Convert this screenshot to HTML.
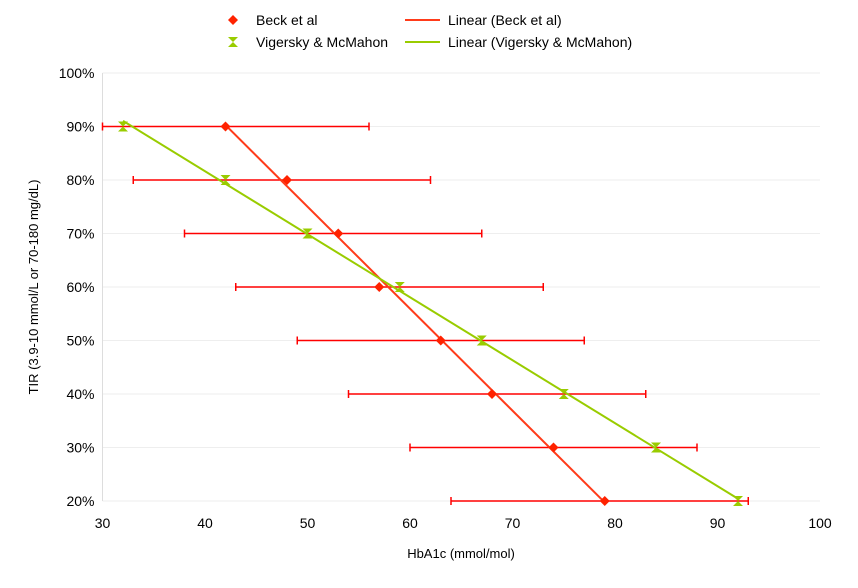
<!DOCTYPE html>
<html><head><meta charset="utf-8"><style>
body{margin:0;background:#fff;}
svg text{font-family:"Liberation Sans",sans-serif;fill:#000;}
</style></head><body>
<svg id="c" width="858" height="583"></svg>
<script>
const xTicks=[30,40,50,60,70,80,90,100];
const yTicks=[20,30,40,50,60,70,80,90,100];
const beckX=[42,48,53,57,63,68,74,79];
const beckY=[90,80,70,60,50,40,30,20];
const beckErrLo=[30,33,38,43,49,54,60,64];
const beckErrHi=[56,62,67,73,77,83,88,93];
const vigX=[32,42,50,59,67,75,84,92];
const vigY=[90,80,70,60,50,40,30,20];

const svg=document.getElementById('c');
const NS='http://www.w3.org/2000/svg';
const L=102.5,R=820,T=73,B=501;
const xs=v=>L+(v-30)/70*(R-L);
const ys=v=>B-(v-20)/80*(B-T);
function mk(tag,attrs,parent){const e=document.createElementNS(NS,tag);for(const k in attrs)e.setAttribute(k,attrs[k]);(parent||svg).appendChild(e);return e;}

yTicks.forEach(t=>{
  const g=mk('line',{x1:L,x2:R,y1:ys(t),y2:ys(t),stroke:'#eeeeee','stroke-width':1});
  
  
  const tx=mk('text',{x:L-8,y:ys(t)+5,'text-anchor':'end','font-size':14});
  tx.textContent=t+'%';
  
  
});
xTicks.forEach(t=>{
  const tx=mk('text',{x:xs(t),y:528,'text-anchor':'middle','font-size':14});
  tx.textContent=t;
  
  
});
const ax=mk('line',{x1:L,x2:L,y1:T,y2:B,stroke:'#dddddd','stroke-width':1});



function fit(xsArr,ysArr){ // regress x on y is fine for drawing line across y range; use y on x
  const n=xsArr.length;let mx=0,my=0;for(let i=0;i<n;i++){mx+=xsArr[i];my+=ysArr[i];}mx/=n;my/=n;
  let sxy=0,sxx=0;for(let i=0;i<n;i++){sxy+=(xsArr[i]-mx)*(ysArr[i]-my);sxx+=(xsArr[i]-mx)**2;}
  const b=sxy/sxx;return{b,a:my-b*mx,x0:Math.min(...xsArr),x1:Math.max(...xsArr)};
}
// error bars
beckX.forEach((x,i)=>{
  const y=ys(beckY[i]);
  const e=mk('g',{stroke:'#ff0000','stroke-width':1.5});
  
  
  mk('line',{x1:xs(beckErrLo[i]),x2:xs(beckErrHi[i]),y1:y,y2:y},e);
  mk('line',{x1:xs(beckErrLo[i]),x2:xs(beckErrLo[i]),y1:y-4,y2:y+4},e);
  mk('line',{x1:xs(beckErrHi[i]),x2:xs(beckErrHi[i]),y1:y-4,y2:y+4},e);
});
const fb=fit(beckX,beckY),fv=fit(vigX,vigY);
const tb=mk('line',{x1:xs(fb.x0),y1:ys(fb.a+fb.b*fb.x0),x2:xs(fb.x1),y2:ys(fb.a+fb.b*fb.x1),stroke:'#ff3b1a','stroke-width':2});


const tv=mk('line',{x1:xs(fv.x0),y1:ys(fv.a+fv.b*fv.x0),x2:xs(fv.x1),y2:ys(fv.a+fv.b*fv.x1),stroke:'#99cc00','stroke-width':2});


function hourglass(cx,cy,s){return `M${cx-s},${cy-s}L${cx+s},${cy-s}L${cx},${cy}L${cx+s},${cy+s}L${cx-s},${cy+s}L${cx},${cy}Z`;}
vigX.forEach((x,i)=>{
  const p=mk('path',{d:hourglass(xs(x),ys(vigY[i]),5),fill:'#99cc00'});
  
  
});
beckX.forEach((x,i)=>{
  const cx=xs(x),cy=ys(beckY[i]);
  const p=mk('path',{d:`M${cx},${cy-5}L${cx+5},${cy}L${cx},${cy+5}L${cx-5},${cy}Z`,fill:'#ff2200'});
  
  
});
// legend
const lg=mk('g',{});


mk('path',{d:'M233,15L238,20L233,25L228,20Z',fill:'#ff2200'},lg);
let t1=mk('text',{x:256,y:25,'font-size':14},lg);t1.textContent='Beck et al';
mk('path',{d:hourglass(233,42,5),fill:'#99cc00'},lg);
let t2=mk('text',{x:256,y:47,'font-size':14},lg);t2.textContent='Vigersky & McMahon';
mk('line',{x1:405,x2:440,y1:20,y2:20,stroke:'#ff3b1a','stroke-width':2},lg);
let t3=mk('text',{x:448,y:25,'font-size':14},lg);t3.textContent='Linear (Beck et al)';
mk('line',{x1:405,x2:440,y1:42,y2:42,stroke:'#99cc00','stroke-width':2},lg);
let t4=mk('text',{x:448,y:47,'font-size':14},lg);t4.textContent='Linear (Vigersky & McMahon)';
const xt=mk('text',{x:461,y:558,'text-anchor':'middle','font-size':13});xt.textContent='HbA1c (mmol/mol)';


const yt=mk('text',{x:0,y:0,'text-anchor':'middle','font-size':13,transform:'translate(38,287) rotate(-90)'});yt.textContent='TIR (3.9-10 mmol/L or 70-180 mg/dL)';


</script>
</body></html>
